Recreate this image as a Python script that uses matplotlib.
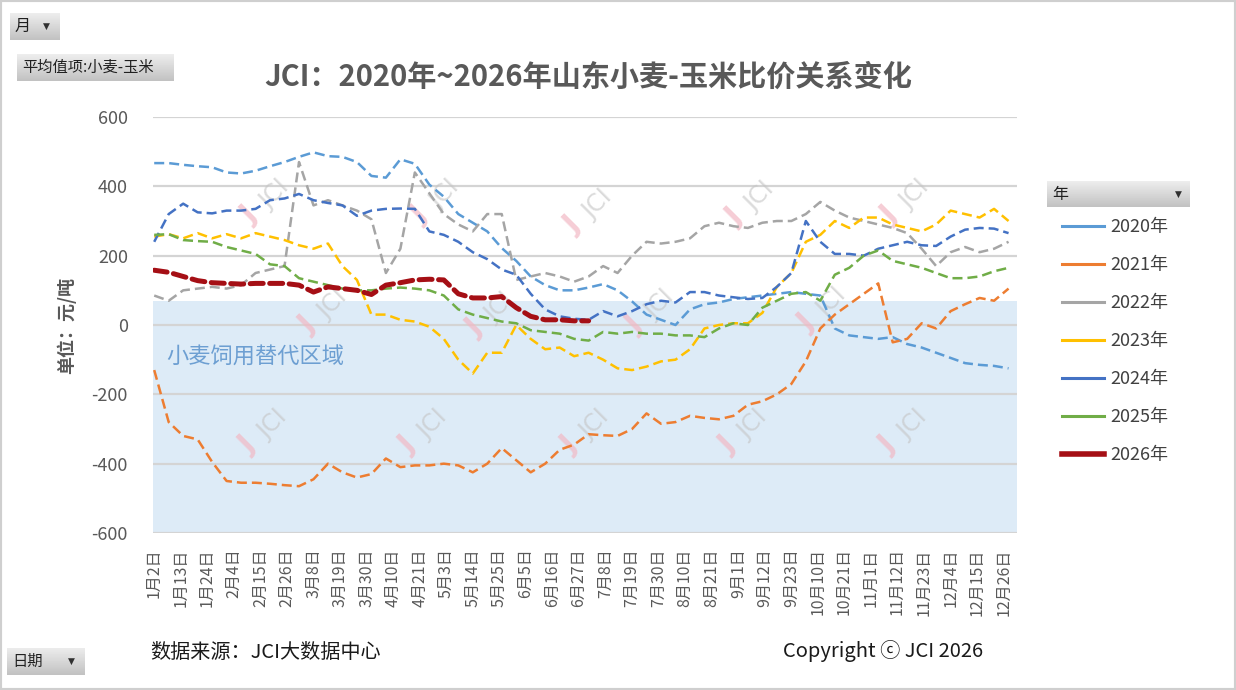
import numpy as np
import matplotlib
matplotlib.use('Agg')
import matplotlib.pyplot as plt
from matplotlib.lines import Line2D
from matplotlib.patches import Rectangle

# +------+
# | Data |
# +------+
# category axis: trading days from 1月2日, one value read every 6 categories
n_cat = 358
step = 6

date_labels = ['1月2日', '1月13日', '1月24日', '2月4日', '2月15日', '2月26日', '3月8日',
               '3月19日', '3月30日', '4月10日', '4月21日', '5月3日', '5月14日', '5月25日',
               '6月5日', '6月16日', '6月27日', '7月8日', '7月19日', '7月30日', '8月10日',
               '8月21日', '9月1日', '9月12日', '9月23日', '10月10日', '10月21日', '11月1日',
               '11月12日', '11月23日', '12月4日', '12月15日', '12月26日']

years = ['2020年', '2021年', '2022年', '2023年', '2024年', '2025年', '2026年']

v2020 = [467, 467, 462, 458, 455, 440, 437, 445, 458, 470, 485, 498, 487, 485, 470,
         430, 425, 478, 465, 405, 370, 320, 295, 270, 222, 185, 140, 115, 100, 100,
         108, 118, 100, 68, 30, 15, 0, 45, 60, 65, 75, 80, 85, 90, 95,
         90, 85, -10, -30, -35, -40, -35, -55, -65, -80, -95, -110, -115, -118, -125]
v2021 = [-130, -280, -320, -330, -395, -450, -455, -455, -458, -462, -465, -445, -400, -425, -440,
         -430, -385, -410, -405, -405, -400, -405, -425, -400, -355, -390, -425, -400, -360, -345,
         -315, -318, -320, -300, -255, -285, -280, -262, -268, -272, -262, -230, -220, -200, -170,
         -105, -10, 30, 60, 90, 120, -50, -40, 5, -10, 40, 60, 78, 70, 105]
v2022 = [85, 70, 100, 105, 110, 105, 115, 150, 160, 170, 470, 345, 360, 345, 330,
         305, 150, 220, 440, 380, 320, 290, 270, 320, 320, 130, 140, 150, 140, 125,
         140, 170, 150, 200, 240, 235, 240, 250, 285, 295, 285, 280, 295, 300, 300,
         320, 355, 330, 310, 300, 290, 280, 265, 220, 170, 210, 225, 210, 220, 240]
v2023 = [255, 262, 250, 265, 250, 262, 250, 265, 255, 245, 230, 220, 235, 170, 130,
         30, 30, 15, 10, -5, -40, -100, -140, -80, -80, 0, -40, -70, -65, -90,
         -80, -100, -125, -130, -120, -105, -100, -70, -10, 0, 5, 5, 35, 110, 150,
         240, 260, 300, 280, 310, 310, 290, 280, 270, 290, 330, 320, 310, 335, 300]
v2024 = [240, 320, 350, 325, 322, 330, 330, 335, 360, 365, 378, 360, 352, 345, 315,
         330, 335, 336, 335, 270, 260, 240, 210, 190, 160, 145, 90, 45, 25, 18,
         15, 40, 25, 40, 60, 70, 65, 95, 95, 85, 80, 75, 78, 110, 150,
         300, 240, 205, 205, 200, 220, 230, 240, 230, 228, 255, 275, 280, 278, 265]
v2025 = [260, 262, 245, 242, 240, 225, 215, 205, 175, 170, 135, 125, 115, 105, 100,
         100, 105, 108, 105, 100, 85, 45, 30, 20, 10, 5, -15, -20, -25, -40,
         -45, -20, -25, -20, -25, -25, -30, -30, -35, -10, 5, 0, 50, 70, 90,
         95, 70, 145, 165, 200, 215, 185, 175, 165, 150, 135, 135, 140, 155, 165]
v2026 = [158, 152, 140, 128, 122, 120, 118, 120, 120, 120, 115, 95, 110, 105, 100,
         88, 115, 122, 130, 132, 130, 90, 78, 78, 82, 50, 25, 15, 15, 12,
         12]

feed_zone_top = 70

W, H = 1236, 690


def fx(px):
    return px / W


def fy(py):
    return 1 - py / H


def button(fig, x0, y0, x1, y1, label, arrow_px=None, size=11):
    # grey pivot-table style button with a vertical gradient
    bax = fig.add_axes([fx(x0), fy(y1), (x1 - x0) / W, (y1 - y0) / H])
    grad = np.linspace(0.93, 0.76, 32).reshape(-1, 1)
    bax.imshow(grad, cmap='gray', vmin=0, vmax=1, aspect='auto', extent=(0, 1, 0, 1))
    bax.set_axis_off()
    fig.text(fx(x0 + 5), fy((y0 + y1) / 2), label, fontsize=size, color='#202020',
             ha='left', va='center')
    if arrow_px is not None:
        fig.text(fx(arrow_px), fy((y0 + y1) / 2), '▼', fontsize=6.5, color='#303030',
                 ha='center', va='center', family='DejaVu Sans')


def main():
    plt.rcParams['font.family'] = ['Noto Sans CJK SC', 'DejaVu Sans']
    plt.rcParams['axes.unicode_minus'] = False

    fig = plt.figure(figsize=(12.36, 6.9), dpi=100)
    ax = fig.add_axes([fx(153), fy(533), (1017 - 153) / W, (533 - 117) / H])

    x = np.arange(0, n_cat, step)
    series = [v2020, v2021, v2022, v2023, v2024, v2025, v2026]
    colors = ['#5B9BD5', '#ED7D31', '#A5A5A5', '#FFC000', '#4472C4', '#70AD47', '#A50F15']

    handles = []
    for year, vals, color in zip(years, series, colors):
        y = np.full(len(x), np.nan)
        y[:len(vals)] = vals
        if year == '2026年':
            ax.plot(x, y, color=color, lw=3.6, dashes=(2.6, 1.3), zorder=5,
                    dash_capstyle='round')
            handles.append(Line2D([], [], color=color, lw=4))
        else:
            ax.plot(x, y, color=color, lw=1.8, dashes=(4, 2), zorder=3)
            handles.append(Line2D([], [], color=color, lw=2.2))

    # feed substitution zone
    ax.axhspan(-600, feed_zone_top, color='#DDEBF7', zorder=0.2, lw=0)
    ax.text(5, -92, '小麦饲用替代区域', fontsize=16, color='#6D9FD2',
            ha='left', va='center', zorder=2)

    ax.set_xlim(-0.5, n_cat - 0.5)
    ax.set_ylim(-600, 600)
    ax.set_yticks(range(-600, 601, 200))
    ax.set_xticks(np.arange(0, 11 * len(date_labels), 11))
    ax.set_xticklabels(date_labels, rotation=90, fontsize=11.5, color='#595959')
    ax.tick_params(axis='y', length=0, pad=18, labelsize=13, labelcolor='#595959')
    ax.tick_params(axis='x', length=0, pad=11)
    ax.set_axisbelow(True)
    ax.yaxis.grid(True, color='#D4D4D4', lw=1.6, zorder=0.5)
    for s in ax.spines.values():
        s.set_visible(False)

    # watermarks
    marks = [(275, 195), (445, 195), (598, 205), (760, 197), (915, 195),
             (333, 305), (500, 308), (660, 305), (832, 303),
             (273, 425), (433, 425), (595, 425), (753, 425), (913, 425)]
    for px, py in marks:
        ax.text(fx(px), fy(py), 'JCI', transform=fig.transFigure, rotation=45,
                fontsize=17, color='#C4C4C4', alpha=0.6, ha='center', va='center',
                zorder=1, family='DejaVu Sans')
        ax.text(fx(px - 26), fy(py + 20), 'J', transform=fig.transFigure, rotation=45,
                fontsize=20, color='#F2B8C4', alpha=0.7, ha='center', va='center',
                zorder=1, fontweight='bold', family='DejaVu Sans')

    # titles and notes
    fig.text(fx(588), fy(77), 'JCI：2020年~2026年山东小麦-玉米比价关系变化',
             fontsize=21, fontweight='bold', color='#595959', ha='center', va='center')
    fig.text(fx(66), fy(325), '单位：元/吨', rotation=90, fontsize=13,
             fontweight='bold', color='#595959', ha='center', va='center')
    fig.text(fx(150), fy(653), '数据来源：JCI大数据中心', fontsize=14.5,
             color='#1A1A1A', ha='left', va='center')
    fig.text(fx(783), fy(651), 'Copyright ⓒ JCI 2026', fontsize=14.5,
             color='#1A1A1A', ha='left', va='center')

    fig.legend(handles, years, loc='upper left', bbox_to_anchor=(fx(1062), fy(218)),
               frameon=False, fontsize=13, handlelength=2.3, handletextpad=0.35,
               labelspacing=1.11, borderaxespad=0, borderpad=0, labelcolor='#404040')

    button(fig, 10, 13, 60, 40, '月', arrow_px=46, size=11.5)
    button(fig, 17, 54, 174, 81, '平均值项:小麦-玉米', size=11)
    button(fig, 1047, 181, 1190, 207, '年', arrow_px=1178, size=11.5)
    button(fig, 7, 648, 85, 675, '日期', arrow_px=71, size=11)

    fig.patches.append(Rectangle((0, 0), 1, 1, transform=fig.transFigure, fill=False,
                                 edgecolor='#CFCFCF', lw=3))

    fig.savefig('out.png', dpi=100)


if __name__ == '__main__':
    main()
